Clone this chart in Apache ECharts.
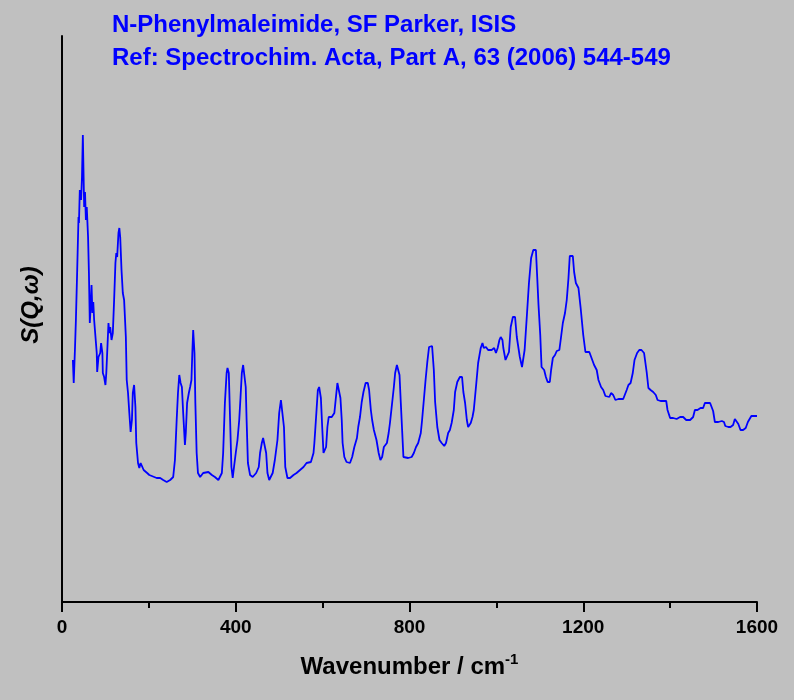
<!DOCTYPE html>
<html>
<head>
<meta charset="utf-8">
<title>N-Phenylmaleimide INS spectrum</title>
<script src="https://cdn.jsdelivr.net/npm/echarts@6/dist/echarts.min.js"></script>
<style>
  html, body { margin: 0; padding: 0; background: #c0c0c0; }
  #chart { width: 794px; height: 700px; }
</style>
</head>
<body>
<div id="chart"></div>
<script>
// wavenumber (cm-1) and S(Q,w) in arbitrary units
const wavenumber = [
  25, 27, 30, 32, 35, 38, 39, 41, 44, 46,
  48, 51, 53, 55, 57, 60, 62, 64, 66, 68,
  70, 72, 74, 78, 80, 81, 84, 88, 90, 93,
  94, 97, 100, 102, 104, 107, 109, 111, 114, 117,
  120, 123, 125, 127, 130, 132, 134, 137, 140, 143,
  147, 149, 152, 155, 158, 161, 163, 166, 169, 171,
  175, 178, 181, 185, 188, 192, 196, 201, 218, 226,
  233, 241, 249, 256, 260, 264, 267, 270, 273, 276,
  279, 283, 285, 288, 292, 295, 298, 300, 302, 305,
  307, 310, 313, 318, 325, 337, 345, 352, 360, 368,
  371, 375, 379, 381, 384, 387, 390, 393, 396, 400,
  404, 408, 411, 414, 417, 420, 423, 425, 428, 433,
  439, 447, 453, 456, 460, 463, 467, 470, 473, 477,
  480, 485, 490, 496, 500, 504, 508, 511, 514, 519,
  525, 533, 540, 548, 556, 563, 573, 579, 581, 583,
  586, 589, 592, 596, 599, 602, 605, 608, 611, 614,
  621, 627, 630, 634, 638, 641, 644, 646, 650, 655,
  663, 668, 673, 679, 682, 686, 690, 694, 699, 704,
  707, 711, 714, 718, 724, 729, 733, 737, 741, 748,
  752, 755, 759, 764, 767, 771, 774, 777, 780, 783,
  786, 790, 797, 805, 810, 815, 820, 826, 829, 833,
  837, 841, 845, 852, 856, 859, 864, 869, 874, 880,
  884, 889, 893, 897, 902, 905, 910, 916, 921, 924,
  928, 932, 935, 941, 945, 948, 953, 958, 964, 968,
  971, 976, 981, 989, 995, 999, 1003, 1007, 1010, 1014,
  1016, 1021, 1025, 1029, 1033, 1038, 1043, 1047, 1051, 1054,
  1059, 1062, 1065, 1070, 1075, 1080, 1085, 1091, 1094, 1097,
  1101, 1104, 1110, 1114, 1118, 1123, 1126, 1130, 1135, 1139,
  1145, 1148, 1153, 1158, 1162, 1166, 1169, 1176, 1179, 1183,
  1189, 1194, 1200, 1205, 1209, 1214, 1218, 1225, 1231, 1235,
  1241, 1246, 1251, 1255, 1260, 1264, 1269, 1274, 1281, 1292,
  1296, 1300, 1304, 1309, 1314, 1318, 1324, 1329, 1334, 1340,
  1346, 1350, 1355, 1361, 1367, 1371, 1378, 1391, 1394, 1400,
  1407, 1415, 1423, 1430, 1437, 1446, 1453, 1457, 1463, 1470,
  1476, 1480, 1492, 1499, 1503, 1511, 1519, 1524, 1527, 1534,
  1539, 1545, 1549, 1553, 1557, 1562, 1568, 1574, 1579, 1583,
  1587, 1600
];

const intensity = [
  242, 219, 255, 282, 332, 385, 379, 412, 402, 425,
  467, 395, 410, 382, 395, 365, 329, 279, 295, 317,
  289, 300, 282, 284, 249, 230, 245, 249, 259, 249,
  229, 225, 217, 229, 249, 279, 269, 275, 262, 269,
  302, 339, 349, 345, 369, 374, 365, 332, 309, 302,
  265, 222, 209, 189, 170, 182, 209, 217, 195, 159,
  139, 134, 139, 140, 132, 130, 129, 127, 124, 124,
  122, 120, 122, 125, 142, 182, 209, 227, 219, 215,
  189, 157, 169, 199, 209, 215, 222, 249, 272, 249,
  199, 149, 129, 125, 129, 130, 127, 125, 122, 129,
  149, 199, 229, 234, 229, 182, 135, 124, 135, 149,
  162, 182, 205, 229, 237, 235, 215, 182, 139, 127,
  125, 129, 135, 149, 159, 164, 162, 149, 129, 122,
  124, 129, 142, 162, 189, 202, 202, 175, 135, 124,
  124, 127, 129, 132, 135, 139, 140, 149, 159, 172,
  192, 212, 215, 204, 175, 149, 147, 155, 175, 185,
  185, 189, 202, 219, 219, 204, 182, 159, 145, 140,
  139, 145, 155, 164, 175, 185, 200, 210, 219, 219,
  212, 192, 182, 172, 162, 149, 142, 145, 155, 159,
  169, 179, 195, 215, 229, 237, 237, 227, 199, 172,
  145, 144, 144, 145, 149, 155, 159, 169, 182, 202,
  222, 240, 255, 256, 232, 200, 175, 162, 159, 156,
  159, 169, 172, 179, 192, 210, 220, 225, 225, 210,
  199, 182, 175, 179, 185, 192, 215, 239, 254, 259,
  254, 255, 252, 252, 254, 249, 254, 262, 265, 262,
  254, 242, 240, 250, 275, 285, 285, 265, 265, 245,
  235, 235, 252, 285, 319, 344, 352, 352, 325, 297,
  267, 235, 232, 225, 220, 220, 232, 244, 247, 251,
  252, 262, 279, 289, 302, 324, 346, 346, 330, 319,
  314, 294, 267, 250, 252, 250, 250, 237, 232, 222,
  215, 212, 206, 204, 205, 209, 207, 202, 203, 203,
  203, 212, 217, 219, 229, 242, 249, 252, 252, 249,
  230, 214, 212, 210, 207, 202, 201, 201, 192, 184,
  184, 183, 185, 185, 182, 182, 185, 192, 192, 194,
  194, 199, 199, 191, 180, 180, 181, 180, 176, 175,
  175, 177, 183, 182, 178, 172, 172, 174, 180, 182,
  186, 186
];

const xTicks = [0, 400, 800, 1200, 1600];

const titleLines = [
  "N-Phenylmaleimide, SF Parker, ISIS",
  "Ref: Spectrochim. Acta, Part A, 63 (2006) 544-549"
];

const FONT = '"Liberation Sans", Arial, sans-serif';

const chart = echarts.init(document.getElementById("chart"));

chart.setOption({
  backgroundColor: "#c0c0c0",
  animation: false,
  title: {
    text: titleLines.join("\n"),
    left: 107,
    top: 4,
    textStyle: {
      color: "#0000ff",
      fontFamily: FONT,
      fontWeight: "bold",
      fontSize: 24,
      lineHeight: 33,
    },
  },
  grid: {
    left: 62,
    right: 37,
    top: 36,
    bottom: 98,
  },
  xAxis: {
    type: "value",
    min: xTicks[0],
    max: xTicks[xTicks.length - 1],
    interval: xTicks[1] - xTicks[0],
    name: "{b|Wavenumber / cm}{s|-1}",
    nameLocation: "middle",
    nameGap: 50,
    nameTextStyle: {
      rich: {
        b: {
          fontFamily: FONT,
          fontWeight: "bold",
          fontSize: 24,
          color: "#000",
          lineHeight: 30,
        },
        s: {
          fontFamily: FONT,
          fontWeight: "bold",
          fontSize: 15,
          color: "#000",
          lineHeight: 15,
          verticalAlign: "top",
        },
      },
    },
    axisLine: {
      onZero: false,
      lineStyle: { color: "#000", width: 2 },
    },
    axisTick: {
      inside: false,
      length: 10,
      lineStyle: { color: "#000", width: 2 },
    },
    minorTick: {
      show: true,
      splitNumber: 2,
      length: 6,
      lineStyle: { color: "#000", width: 2 },
    },
    axisLabel: {
      margin: 16,
      color: "#000",
      fontFamily: FONT,
      fontWeight: "bold",
      fontSize: 19,
      formatter: (v) => String(v),
    },
    splitLine: { show: false },
  },
  yAxis: {
    type: "value",
    min: 0,
    max: 566,
    name: "S(Q,ω)",
    nameLocation: "middle",
    nameGap: 19,
    nameTextStyle: {
      color: "#000",
      fontFamily: FONT,
      fontWeight: "bold",
      fontStyle: "italic",
      fontSize: 24,
      padding: [0, 0, 0, 28],
    },
    axisLine: {
      show: true,
      lineStyle: { color: "#000", width: 2 },
    },
    axisTick: { show: false },
    axisLabel: { show: false },
    splitLine: { show: false },
  },
  series: [
    {
      type: "line",
      data: wavenumber.map((w, i) => [w, intensity[i]]),
      showSymbol: false,
      lineStyle: { color: "#0000ff", width: 1.8 },
      itemStyle: { color: "#0000ff" },
    },
  ],
});
</script>
</body>
</html>
